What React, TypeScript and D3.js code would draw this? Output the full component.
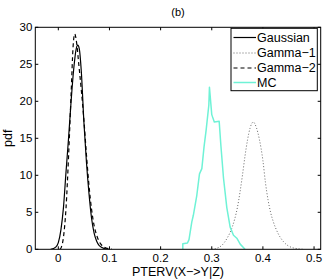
import * as d3 from 'd3'

type Pt = [number, number]

// series: [x, pdf]
const gaussian: Pt[] = [
  [-0.015, 0], [-0.005, 0.3], [0, 0.9], [0.005, 2.6], [0.01, 5.6], [0.015, 10.4],
  [0.02, 15], [0.025, 20], [0.03, 24.3], [0.035, 27.1], [0.038, 27.6], [0.041, 27.1],
  [0.045, 24], [0.05, 17.2], [0.055, 11.8], [0.06, 7.5], [0.065, 4.2], [0.07, 2.2],
  [0.075, 1.1], [0.08, 0.5], [0.09, 0.1], [0.1, 0],
]
const gamma1: Pt[] = [
  [0.3, 0], [0.31, 0.15], [0.32, 0.55], [0.33, 1.5], [0.34, 3.0], [0.35, 5.6],
  [0.36, 10], [0.365, 12.6], [0.37, 14.8], [0.375, 16.4], [0.381, 17.2], [0.387, 16.5],
  [0.393, 14.9], [0.4, 12], [0.405, 9], [0.41, 6.7], [0.415, 5], [0.42, 3.8],
  [0.43, 2.1], [0.44, 1.05], [0.45, 0.45], [0.46, 0.18], [0.47, 0.06], [0.48, 0],
]
const gamma2: Pt[] = [
  [0.003, 0], [0.006, 0.3], [0.01, 1.6], [0.015, 5.5], [0.02, 12.5], [0.025, 21],
  [0.029, 27.5], [0.032, 29.1], [0.036, 27.8], [0.04, 25], [0.045, 21.5], [0.05, 17.5],
  [0.055, 12.8], [0.06, 8.6], [0.065, 5.4], [0.07, 3.2], [0.075, 1.9], [0.08, 1.05],
  [0.085, 0.55], [0.09, 0.27], [0.1, 0.05], [0.105, 0],
]
const mc: Pt[] = [
  [0.2434, 0], [0.2434, 0.75], [0.2525, 0.85], [0.2555, 1.3], [0.261, 3.7], [0.264, 4.6],
  [0.2708, 7.3], [0.276, 10.2], [0.2806, 10.9], [0.285, 13.9], [0.289, 16.1],
  [0.2943, 19.5], [0.2955, 21.9], [0.3, 18.2], [0.305, 17.2], [0.3145, 17.3],
  [0.318, 13.9], [0.323, 9.6], [0.3295, 5.6], [0.336, 3.0], [0.3425, 1.9],
  [0.349, 1.5], [0.3556, 0.7], [0.365, 0],
]

const xTicks = [0, 0.1, 0.2, 0.3, 0.4, 0.5]
const yTicks = [0, 5, 10, 15, 20, 25, 30]
const legendNames = ['Gaussian', 'Gamma−1', 'Gamma−2', 'MC']

const W = 327
const H = 280
const m = { left: 35.3, right: 320.7, top: 27.3, bottom: 249.3 }

export default function App() {
  const x = d3.scaleLinear().domain([-0.045, 0.513]).range([m.left, m.right])
  const y = d3.scaleLinear().domain([0, 30]).range([m.bottom, m.top])

  const smooth = d3.line<Pt>().x(d => x(d[0])).y(d => y(d[1])).curve(d3.curveMonotoneX)
  const straight = d3.line<Pt>().x(d => x(d[0])).y(d => y(d[1]))

  const styles = [
    { stroke: '#000', dash: undefined, width: 1.2 },
    { stroke: '#666', dash: '1,2', width: 1 },
    { stroke: '#000', dash: '4,3', width: 1.2 },
    { stroke: '#6ff2d6', dash: undefined, width: 1.5 },
  ]
  const font = 'Liberation Sans, Arial, sans-serif'
  const tl = 3

  const lg = { x0: 231, y0: 28.3, x1: 317.3, y1: 90.7 }
  const rowY = [37.5, 53, 68, 82.5]

  return (
    <svg width={W} height={H} style={{ position: 'absolute', left: 0, top: 0, background: '#fff' }}
      fontFamily={font}>
      <defs>
        <clipPath id="plot">
          <rect x={m.left} y={m.top} width={m.right - m.left} height={m.bottom - m.top} />
        </clipPath>
      </defs>
      <rect width={W} height={H} fill="#fff" />

      <g clipPath="url(#plot)" fill="none">
        <path d={smooth(gaussian) ?? ''} stroke={styles[0].stroke} strokeWidth={styles[0].width} />
        <path d={smooth(gamma1) ?? ''} stroke={styles[1].stroke} strokeWidth={styles[1].width} strokeDasharray={styles[1].dash} />
        <path d={smooth(gamma2) ?? ''} stroke={styles[2].stroke} strokeWidth={styles[2].width} strokeDasharray={styles[2].dash} />
        <path d={straight(mc) ?? ''} stroke={styles[3].stroke} strokeWidth={styles[3].width} strokeLinejoin="round" />
      </g>

      {/* box and inward ticks */}
      <rect x={m.left} y={m.top} width={m.right - m.left} height={m.bottom - m.top}
        fill="none" stroke="#000" strokeWidth={1} />
      {xTicks.map(t => (
        <g key={'x' + t}>
          <line x1={x(t)} x2={x(t)} y1={m.bottom} y2={m.bottom - tl} stroke="#000" />
          <line x1={x(t)} x2={x(t)} y1={m.top} y2={m.top + tl} stroke="#000" />
          <text x={x(t)} y={262} textAnchor="middle" fontSize={11.5}>{t}</text>
        </g>
      ))}
      {yTicks.map(t => (
        <g key={'y' + t}>
          <line x1={m.left} x2={m.left + tl} y1={y(t)} y2={y(t)} stroke="#000" />
          <line x1={m.right} x2={m.right - tl} y1={y(t)} y2={y(t)} stroke="#000" />
          <text x={m.left - 3} y={y(t) + 4} textAnchor="end" fontSize={11.5}>{t}</text>
        </g>
      ))}

      <text x={178} y={16} textAnchor="middle" fontSize={11}>(b)</text>
      <text x={178} y={275.5} textAnchor="middle" fontSize={12.5}>PTERV(X−&gt;Y|Z)</text>
      <text transform={`translate(12,${(m.top + m.bottom) / 2}) rotate(-90)`} textAnchor="middle" fontSize={12.5}>pdf</text>

      {/* legend */}
      <rect x={lg.x0} y={lg.y0} width={lg.x1 - lg.x0} height={lg.y1 - lg.y0} fill="#fff" stroke="#000" />
      {legendNames.map((n, i) => (
        <g key={n}>
          <line x1={233.5} x2={256} y1={rowY[i]} y2={rowY[i]} stroke={styles[i].stroke}
            strokeWidth={styles[i].width} strokeDasharray={styles[i].dash} />
          <text x={257} y={rowY[i] + 4.2} fontSize={12.5}>{n}</text>
        </g>
      ))}
    </svg>
  )
}
